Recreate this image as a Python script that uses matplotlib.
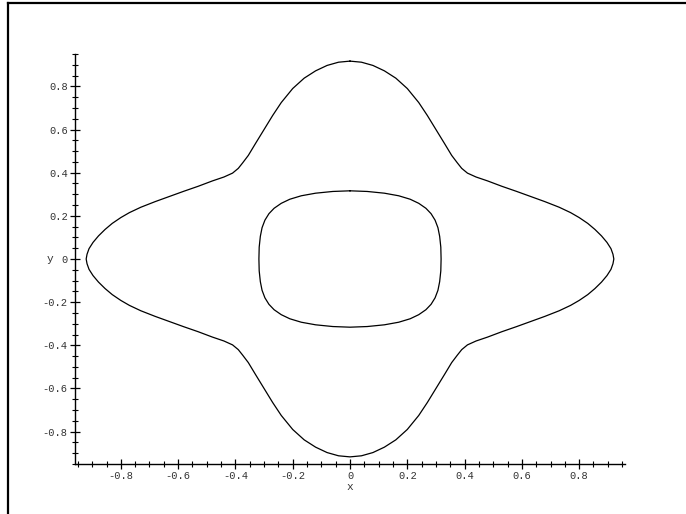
import matplotlib
matplotlib.use("Agg")
import matplotlib.pyplot as plt
from matplotlib.lines import Line2D
from matplotlib.ticker import MultipleLocator, FuncFormatter
import numpy as np

# First-quadrant points (curves are symmetric in x and y)
outer_x = [0.0, 0.04, 0.08, 0.12, 0.16, 0.20, 0.24, 0.27, 0.30, 0.33, 0.355,
           0.375, 0.39, 0.41, 0.44, 0.48, 0.53, 0.58, 0.63, 0.68, 0.73, 0.77,
           0.80, 0.83, 0.855, 0.878, 0.897, 0.911, 0.918, 0.921]
outer_y = [0.917, 0.912, 0.897, 0.872, 0.838, 0.79, 0.725, 0.665, 0.60, 0.535,
           0.48, 0.445, 0.42, 0.398, 0.38, 0.362, 0.337, 0.314, 0.29, 0.266,
           0.24, 0.215, 0.192, 0.165, 0.137, 0.107, 0.077, 0.048, 0.022, 0.0]
inner_x = [0.0, 0.06, 0.12, 0.17, 0.21, 0.24, 0.265, 0.283, 0.297, 0.307,
           0.313, 0.317, 0.318]
inner_y = [0.316, 0.313, 0.305, 0.293, 0.277, 0.258, 0.235, 0.21, 0.18, 0.145,
           0.105, 0.055, 0.0]

x_ticks = [-0.8, -0.6, -0.4, -0.2, 0, 0.2, 0.4, 0.6, 0.8]
y_ticks = [-0.8, -0.6, -0.4, -0.2, 0, 0.2, 0.4, 0.6, 0.8]


def full_curve(qx, qy):
    qx = np.asarray(qx); qy = np.asarray(qy)
    # quadrant I (top -> right), IV (right -> bottom), III, II
    x = np.concatenate([qx, qx[::-1][1:], -qx[1:], -qx[::-1][1:]])
    y = np.concatenate([qy, -qy[::-1][1:], -qy[1:], qy[::-1][1:]])
    return x, y


W, H = 686, 514
fig = plt.figure(figsize=(W / 100, H / 100), dpi=100)
ax = fig.add_axes([75 / W, (H - 464) / H, 550 / W, 410 / H])

for qx, qy in [(outer_x, outer_y), (inner_x, inner_y)]:
    x, y = full_curve(qx, qy)
    ax.plot(x, y, color="black", lw=0.9, solid_joinstyle="round")

ax.set_xlim(-0.96, 0.96)
ax.set_ylim(-0.95, 0.95)

for s in ["top", "right"]:
    ax.spines[s].set_visible(False)
for s in ["left", "bottom"]:
    ax.spines[s].set_linewidth(1.0)
    ax.spines[s].set_color("black")

fmt = FuncFormatter(lambda v, p: "0" if abs(v) < 1e-9 else ("%.1f" % v))
ax.set_xticks(x_ticks)
ax.set_yticks(y_ticks)
ax.xaxis.set_major_formatter(fmt)
ax.yaxis.set_major_formatter(fmt)
ax.xaxis.set_minor_locator(MultipleLocator(0.05))
ax.yaxis.set_minor_locator(MultipleLocator(0.05))
ax.tick_params(which="major", direction="inout", length=7.5, width=0.9,
               color="black", labelsize=7.5, labelcolor="#333333", pad=1.5)
ax.tick_params(which="minor", direction="inout", length=4.5, width=0.8, color="black")
for lab in ax.get_xticklabels() + ax.get_yticklabels():
    lab.set_family("Liberation Mono")

ax.set_xlabel("x", fontsize=8, family="Liberation Mono", color="#333333")
ax.xaxis.set_label_coords(0.5, -0.045)
ax.set_ylabel("y", fontsize=8, family="Liberation Mono", color="#333333",
              rotation=0, va="center", ha="center")
ax.yaxis.set_label_coords(-0.045, 0.5)

# outer frame (left and top edges)
fig.add_artist(Line2D([8 / W, 8 / W], [0, 1 - 2.5 / H], transform=fig.transFigure,
                      color="black", lw=1.6))
fig.add_artist(Line2D([8 / W, 1], [1 - 2.5 / H, 1 - 2.5 / H], transform=fig.transFigure,
                      color="black", lw=1.6))

fig.savefig("out.png", dpi=100)
